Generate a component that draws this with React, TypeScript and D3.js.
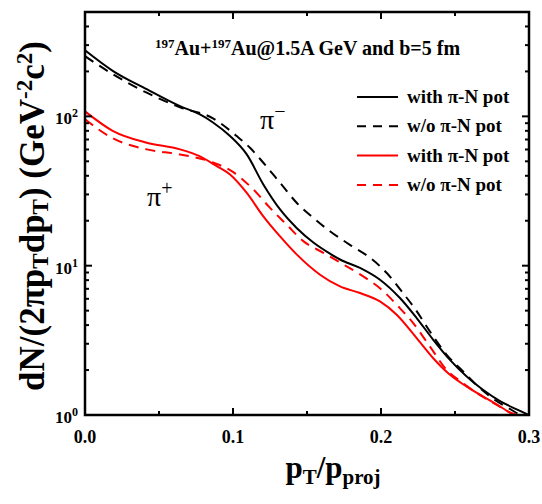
import React from 'react';
import * as d3 from 'd3';

const W = 542;
const H = 504;
const PL = 85, PR = 529, PT = 12, PB = 415;

const xTickValues = [0, 0.1, 0.2, 0.3];
const xTickLabels = ['0.0', '0.1', '0.2', '0.3'];
const xMinorValues = [0.05, 0.15, 0.25];
const yDecades = [1, 10, 100];
const yExponents = ['0', '1', '2'];

// pi- with pi-N potential
const piMinusWithX = [0, 0.019, 0.0417, 0.0642, 0.0777, 0.0865, 0.098, 0.1093, 0.1205, 0.1318, 0.143, 0.1543, 0.1655, 0.1723, 0.1858, 0.1993, 0.2128, 0.2241, 0.2353, 0.2466, 0.2579, 0.2691, 0.2804, 0.2917, 0.3];
const piMinusWithY = [277, 201, 152, 117, 103, 91, 73.8, 55.6, 35, 23.8, 17.9, 14.3, 12.05, 11.0, 9.66, 8.05, 6.07, 4.46, 3.19, 2.34, 1.81, 1.47, 1.24, 1.09, 1.0];
// pi- without pi-N potential
const piMinusWoX = [0, 0.019, 0.0417, 0.0642, 0.0865, 0.1025, 0.1115, 0.1205, 0.1318, 0.143, 0.1543, 0.1655, 0.179, 0.1926, 0.2039, 0.214, 0.223, 0.2331, 0.2444, 0.2545, 0.2657, 0.277, 0.2883, 0.2939];
const piMinusWoY = [253, 191, 144, 115, 97, 73.8, 61.6, 48.9, 35.9, 26.4, 20.9, 17.0, 13.8, 11.3, 8.93, 6.72, 5.14, 3.62, 2.53, 2.0, 1.55, 1.26, 1.08, 1.0];
// pi+ with pi-N potential
const piPlusWithX = [0, 0.019, 0.0417, 0.0642, 0.0777, 0.089, 0.098, 0.1093, 0.1205, 0.1318, 0.143, 0.1588, 0.1723, 0.1858, 0.1993, 0.2106, 0.2241, 0.2353, 0.2466, 0.2579, 0.2691, 0.2804, 0.2894];
const piPlusWithY = [108, 79.7, 66.6, 60.1, 53.9, 46.4, 40.8, 30.7, 21.4, 15.7, 11.9, 8.7, 7.26, 6.56, 5.76, 4.69, 3.27, 2.40, 1.86, 1.55, 1.33, 1.14, 1.0];
// pi+ without pi-N potential
const piPlusWoX = [0, 0.019, 0.0417, 0.0642, 0.0865, 0.1002, 0.1137, 0.125, 0.1363, 0.1475, 0.161, 0.1745, 0.188, 0.2005, 0.2117, 0.2218, 0.2331, 0.2444, 0.2556, 0.2669, 0.2782, 0.2872, 0.2917];
const piPlusWoY = [95.5, 71.2, 60.1, 55.6, 49.1, 42.3, 32.4, 24.4, 18.8, 14.6, 12.2, 10.2, 8.48, 6.90, 5.33, 4.12, 2.87, 2.0, 1.63, 1.36, 1.17, 1.04, 1.0];

const seriesNames = ['with \u03c0-N pot', 'w/o \u03c0-N pot', 'with \u03c0-N pot', 'w/o \u03c0-N pot'];
const seriesColors = ['#000000', '#000000', '#ff0000', '#ff0000'];
const seriesDashed = [false, true, false, true];

const FONT = "'Liberation Serif', 'Times New Roman', serif";

export default function App() {
  const x = d3.scaleLinear().domain([0, 0.3]).range([PL, PR]);
  const y = d3.scaleLog().domain([1, 500]).range([PB, PT]);
  const line = d3
    .line<[number, number]>()
    .x((d) => x(d[0]))
    .y((d) => y(d[1]))
    .curve(d3.curveMonotoneX);

  const series = [
    d3.zip(piMinusWithX, piMinusWithY) as [number, number][],
    d3.zip(piMinusWoX, piMinusWoY) as [number, number][],
    d3.zip(piPlusWithX, piPlusWithY) as [number, number][],
    d3.zip(piPlusWoX, piPlusWoY) as [number, number][],
  ];

  const yMinor: number[] = [];
  yDecades.forEach((dec) => {
    for (let k = 2; k <= 9; k++) {
      const v = k * dec;
      if (v < 500) yMinor.push(v);
    }
  });

  const majorLen = 7;
  const minorLen = 4;
  const legendY0 = 97;
  const legendDY = 29.3;

  return (
    <svg
      width={W}
      height={H}
      style={{ position: 'absolute', left: 0, top: 0, background: '#fff' }}
      fontFamily={FONT}
    >
      <defs>
        <clipPath id="plotClip">
          <rect x={PL} y={PT} width={PR - PL} height={PB - PT} />
        </clipPath>
      </defs>
      <rect x={0} y={0} width={W} height={H} fill="#fff" />

      {/* curves */}
      <g clipPath="url(#plotClip)">
        {series.map((s, i) => (
          <path
            key={i}
            d={line(s) || ''}
            fill="none"
            stroke={seriesColors[i]}
            strokeWidth={2}
            strokeDasharray={seriesDashed[i] ? '10,7' : undefined}
          />
        ))}
      </g>

      {/* frame */}
      <rect x={PL} y={PT} width={PR - PL} height={PB - PT} fill="none" stroke="#000" strokeWidth={2.5} />

      {/* x ticks */}
      {xTickValues.map((v, i) => (
        <g key={'xt' + i}>
          <line x1={x(v)} x2={x(v)} y1={PB} y2={PB - majorLen} stroke="#000" strokeWidth={2} />
          <line x1={x(v)} x2={x(v)} y1={PT} y2={PT + majorLen} stroke="#000" strokeWidth={2} />
          <text x={x(v)} y={443} textAnchor="middle" fontSize={18} fontWeight="bold">
            {xTickLabels[i]}
          </text>
        </g>
      ))}
      {xMinorValues.map((v, i) => (
        <g key={'xm' + i}>
          <line x1={x(v)} x2={x(v)} y1={PB} y2={PB - minorLen} stroke="#000" strokeWidth={2} />
          <line x1={x(v)} x2={x(v)} y1={PT} y2={PT + minorLen} stroke="#000" strokeWidth={2} />
        </g>
      ))}

      {/* y ticks */}
      {yDecades.map((v, i) => (
        <g key={'yt' + i}>
          <line x1={PL} x2={PL + majorLen} y1={y(v)} y2={y(v)} stroke="#000" strokeWidth={2} />
          <line x1={PR} x2={PR - majorLen} y1={y(v)} y2={y(v)} stroke="#000" strokeWidth={2} />
          <text x={78} y={y(v) + 8} textAnchor="end" fontSize={17} fontWeight="bold">
            10
            <tspan fontSize={12} baselineShift="super">{yExponents[i]}</tspan>
          </text>
        </g>
      ))}
      {yMinor.map((v, i) => (
        <g key={'ym' + i}>
          <line x1={PL} x2={PL + minorLen} y1={y(v)} y2={y(v)} stroke="#000" strokeWidth={2} />
          <line x1={PR} x2={PR - minorLen} y1={y(v)} y2={y(v)} stroke="#000" strokeWidth={2} />
        </g>
      ))}

      {/* title */}
      <text x={155} y={55} fontSize={20} fontWeight="bold">
        <tspan fontSize={13} baselineShift="super">197</tspan>
        <tspan>Au+</tspan>
        <tspan fontSize={13} baselineShift="super">197</tspan>
        <tspan>Au@1.5A GeV and b=5 fm</tspan>
      </text>

      {/* pi labels */}
      <text x={260} y={129} fontSize={28}>
        {'\u03c0'}
        <tspan fontSize={20} baselineShift="super">{'\u2212'}</tspan>
      </text>
      <text x={147} y={206} fontSize={28}>
        {'\u03c0'}
        <tspan fontSize={20} baselineShift="super">+</tspan>
      </text>

      {/* legend */}
      {seriesNames.map((name, i) => {
        const ly = legendY0 + i * legendDY;
        return (
          <g key={'lg' + i}>
            <line
              x1={357}
              x2={398}
              y1={ly}
              y2={ly}
              stroke={seriesColors[i]}
              strokeWidth={2}
              strokeDasharray={seriesDashed[i] ? '9,7' : undefined}
            />
            <text x={407} y={ly + 6} fontSize={19} fontWeight="bold">
              {name}
            </text>
          </g>
        );
      })}

      {/* axis labels */}
      <text x={333} y={478} textAnchor="middle" fontSize={31} fontWeight="bold">
        p<tspan fontSize={21} baselineShift="-6">T</tspan>
        <tspan>/p</tspan>
        <tspan fontSize={21} baselineShift="-6">proj</tspan>
      </text>
      <text transform="translate(44,216) rotate(-90)" textAnchor="middle" fontSize={35} fontWeight="bold">
        <tspan>dN/(2{'\u03c0'}p</tspan>
        <tspan fontSize={23} baselineShift="-4">T</tspan>
        <tspan>dp</tspan>
        <tspan fontSize={23} baselineShift="-4">T</tspan>
        <tspan>) (GeV</tspan>
        <tspan fontSize={23} baselineShift="12">-2</tspan>
        <tspan>c</tspan>
        <tspan fontSize={23} baselineShift="12">2</tspan>
        <tspan>)</tspan>
      </text>
    </svg>
  );
}
